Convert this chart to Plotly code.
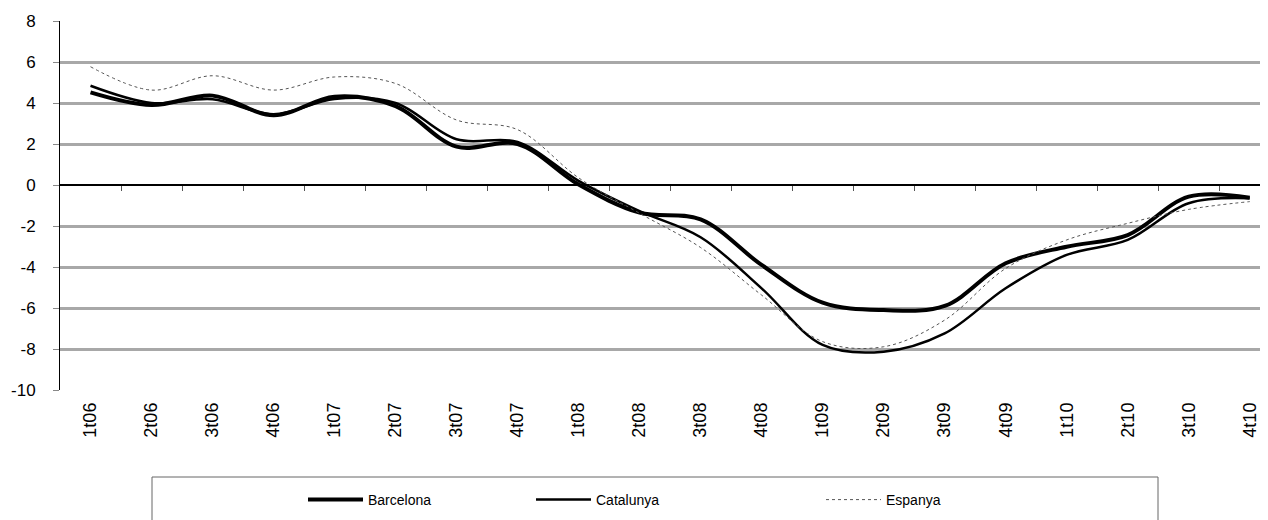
import plotly.graph_objects as go

quarters = ['1t06', '2t06', '3t06', '4t06', '1t07', '2t07', '3t07', '4t07',
            '1t08', '2t08', '3t08', '4t08', '1t09', '2t09', '3t09', '4t09',
            '1t10', '2t10', '3t10', '4t10']
barcelona = [4.52, 3.90, 4.36, 3.40, 4.31, 3.85, 1.87, 2.00, 0.02, -1.35,
             -1.68, -3.90, -5.74, -6.10, -5.90, -3.82, -3.01, -2.44, -0.57, -0.62]
catalunya = [4.84, 4.00, 4.18, 3.45, 4.20, 4.00, 2.23, 2.10, 0.20, -1.28,
             -2.55, -5.04, -7.80, -8.13, -7.24, -5.04, -3.41, -2.68, -0.89, -0.65]
espanya = [5.77, 4.63, 5.33, 4.63, 5.27, 4.95, 3.17, 2.70, 0.35, -1.38,
           -3.05, -5.37, -7.64, -7.89, -6.59, -4.07, -2.68, -1.87, -1.19, -0.81]
y_ticks = [8, 6, 4, 2, 0, -2, -4, -6, -8, -10]

FONT = "Arial, Liberation Sans, sans-serif"
xs = list(range(len(quarters)))

fig = go.Figure()
fig.add_trace(go.Scatter(x=xs, y=barcelona, name='Barcelona', mode='lines',
                         line=dict(color='black', width=4, shape='spline', smoothing=1.0),
                         legend='legend'))
fig.add_trace(go.Scatter(x=xs, y=catalunya, name='Catalunya', mode='lines',
                         line=dict(color='black', width=2.5, shape='spline', smoothing=1.0),
                         legend='legend2'))
fig.add_trace(go.Scatter(x=xs, y=espanya, name='Espanya', mode='lines',
                         line=dict(color='#555555', width=1, dash='dot', shape='spline', smoothing=1.0),
                         legend='legend3'))
# invisible trace so the category-boundary tick axis (x2) is drawn
fig.add_trace(go.Scatter(x=xs, y=espanya, xaxis='x2', mode='lines', opacity=0,
                         showlegend=False, hoverinfo='skip', line=dict(width=0)))

xr = [-0.5, 19.3]
LEG_Y = (390 - 500) / 369
leg_common = dict(y=LEG_Y, xanchor='left', yanchor='middle', bgcolor='rgba(0,0,0,0)',
                  itemwidth=55, font=dict(family=FONT, size=14, color='black'))
fig.update_layout(
    width=1260, height=512,
    margin=dict(l=52, r=0, t=13, b=130, autoexpand=False),
    paper_bgcolor='white', plot_bgcolor='white',
    font=dict(family=FONT, size=14, color='black'),
    showlegend=True,
    xaxis=dict(range=xr, tickmode='array', tickvals=xs, ticktext=quarters,
               tickangle=-90, ticks='', showgrid=False, zeroline=False, showline=False,
               automargin=False,
               tickfont=dict(family=FONT, size=18, color='black'), ticklabelstandoff=8),
    xaxis2=dict(range=xr, overlaying='x', anchor='free', position=10 / 18,
                tickmode='array', tickvals=[i + 0.5 for i in xs[:-1]],
                ticks='outside', ticklen=5, tickcolor='#555555', tickwidth=1,
                showticklabels=False, showgrid=False, zeroline=False, showline=False),
    yaxis=dict(range=[-10, 8], tickmode='array', tickvals=y_ticks,
               ticktext=[str(v) for v in y_ticks], automargin=False,
               showgrid=True, gridcolor='#a8a8a8', gridwidth=3,
               zeroline=True, zerolinecolor='black', zerolinewidth=1.5,
               showline=True, linecolor='black', linewidth=1,
               ticks='outside', ticklen=6, tickcolor='#888888',
               tickfont=dict(family=FONT, size=17, color='black'), ticklabelstandoff=14),
    legend=dict(x=(303 - 60) / 1208, **leg_common),
    legend2=dict(x=(531 - 60) / 1208, **leg_common),
    legend3=dict(x=(821 - 60) / 1208, **leg_common),
    shapes=[dict(type='rect', xref='paper', yref='paper',
                 x0=(152 - 60) / 1208, x1=(1158 - 60) / 1208,
                 y0=(390 - 540) / 369, y1=(390 - 477) / 369,
                 line=dict(color='#666666', width=1), fillcolor='rgba(0,0,0,0)')],
)

fig.write_html("out.html")
